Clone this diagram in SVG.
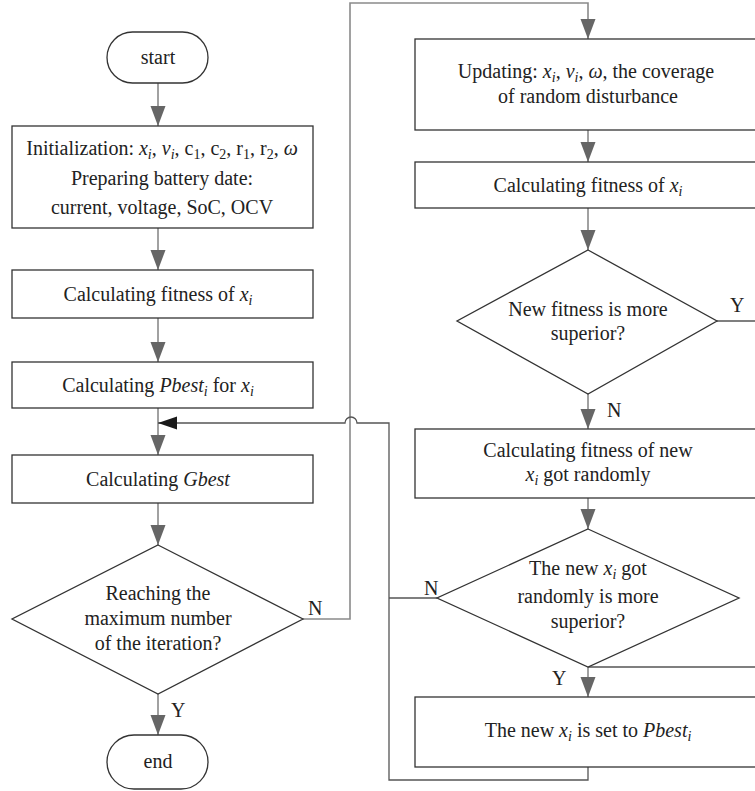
<svg xmlns="http://www.w3.org/2000/svg" width="755" height="791" viewBox="0 0 755 791">
<style>
  .box { fill: #ffffff; stroke: #333333; stroke-width: 1.3; }
  .t { font-family: "Liberation Serif", "Times New Roman", serif; font-size: 20px; fill: #222222; text-anchor: middle; }
  .lbl { font-family: "Liberation Serif", "Times New Roman", serif; font-size: 20px; fill: #222222; }
  .it { font-style: italic; }
  .conn { fill: none; stroke: #8a8a8a; stroke-width: 1.6; }
  .loop { fill: none; stroke: #555555; stroke-width: 1.3; }
</style>
<defs>
  <marker id="arr" markerUnits="userSpaceOnUse" markerWidth="21" markerHeight="16" refX="20" refY="7.5" orient="auto">
    <path d="M0,0 L20,7.5 L0,15 z" fill="#666666"/>
  </marker>
  <marker id="arrb" markerUnits="userSpaceOnUse" markerWidth="20" markerHeight="14" refX="19" refY="6.5" orient="auto">
    <path d="M0,0 L19,6.5 L0,13 z" fill="#1a1a1a"/>
  </marker>
</defs>
<rect width="755" height="791" fill="#ffffff"/>

<g id="connectors">
  <path class="conn" d="M158,83 L158,126" marker-end="url(#arr)"/>
  <path class="conn" d="M158,228 L158,270" marker-end="url(#arr)"/>
  <path class="conn" d="M158,318 L158,362" marker-end="url(#arr)"/>
  <path class="conn" d="M158,408 L158,455" marker-end="url(#arr)"/>
  <path class="conn" d="M158,503 L158,545" marker-end="url(#arr)"/>
  <path class="conn" d="M158,694 L158,735" marker-end="url(#arr)"/>
  <path class="conn" d="M303,619 L350,619 L350,3 L588,3 L588,39" marker-end="url(#arr)"/>
  <path class="conn" d="M588,130 L588,162" marker-end="url(#arr)"/>
  <path class="conn" d="M588,208 L588,250" marker-end="url(#arr)"/>
  <path class="conn" d="M588,394 L588,429" marker-end="url(#arr)"/>
  <path class="conn" d="M588,498 L588,529" marker-end="url(#arr)"/>
  <path class="conn" d="M588,667 L588,697" marker-end="url(#arr)"/>
  <path class="loop" d="M588,767 L588,780 L389,780 L389,423 L357,423 A6,6 0 0 0 345,423 L158,423" marker-end="url(#arrb)"/>
  <path class="loop" d="M437,598 L389,598"/>
  <path class="loop" d="M717,321 L760,321"/>
  <path class="loop" d="M588,667 L760,667"/>
  <text class="lbl" x="308" y="615">N</text>
  <text class="lbl" x="171" y="717">Y</text>
  <text class="lbl" x="730" y="312">Y</text>
  <text class="lbl" x="607" y="417">N</text>
  <text class="lbl" x="424" y="595">N</text>
  <text class="lbl" x="552" y="685">Y</text>
</g>

<g id="start">
  <rect class="box" x="107" y="32" width="101" height="51" rx="25.5"/>
  <text class="t" x="158" y="64">start</text>
</g>

<g id="init">
  <rect class="box" x="12" y="126" width="301" height="102"/>
  <text class="t" x="162" y="155">Initialization: <tspan class="it">x</tspan><tspan class="it" font-size="14" dy="4">i</tspan><tspan dy="-4">, </tspan><tspan class="it">v</tspan><tspan class="it" font-size="14" dy="4">i</tspan><tspan dy="-4">, c</tspan><tspan font-size="14" dy="4">1</tspan><tspan dy="-4">, c</tspan><tspan font-size="14" dy="4">2</tspan><tspan dy="-4">, r</tspan><tspan font-size="14" dy="4">1</tspan><tspan dy="-4">, r</tspan><tspan font-size="14" dy="4">2</tspan><tspan dy="-4">, </tspan><tspan class="it">ω</tspan></text>
  <text class="t" x="162" y="185">Preparing battery date:</text>
  <text class="t" x="162" y="214">current, voltage, SoC, OCV</text>
</g>

<g id="fitness-left">
  <rect class="box" x="12" y="270" width="301" height="48"/>
  <text class="t" x="158" y="301">Calculating fitness of <tspan class="it">x</tspan><tspan class="it" font-size="14" dy="4">i</tspan></text>
</g>

<g id="pbest-left">
  <rect class="box" x="12" y="362" width="301" height="46"/>
  <text class="t" x="158" y="392">Calculating <tspan class="it">Pbest</tspan><tspan class="it" font-size="14" dy="4">i</tspan><tspan dy="-4"> for </tspan><tspan class="it">x</tspan><tspan class="it" font-size="14" dy="4">i</tspan></text>
</g>

<g id="gbest">
  <rect class="box" x="12" y="455" width="301" height="48"/>
  <text class="t" x="158" y="486">Calculating <tspan class="it">Gbest</tspan></text>
</g>

<g id="max-iter">
  <polygon class="box" points="158,545 303,619 158,694 12,619"/>
  <text class="t" x="158" y="600">Reaching the</text>
  <text class="t" x="158" y="625">maximum number</text>
  <text class="t" x="158" y="650">of the iteration?</text>
</g>

<g id="end">
  <rect class="box" x="107" y="735" width="101" height="54" rx="27"/>
  <text class="t" x="158" y="768">end</text>
</g>

<g id="updating">
  <rect class="box" x="415" y="39" width="346" height="91"/>
  <text class="t" x="586" y="78">Updating: <tspan class="it">x</tspan><tspan class="it" font-size="14" dy="4">i</tspan><tspan dy="-4">, </tspan><tspan class="it">v</tspan><tspan class="it" font-size="14" dy="4">i</tspan><tspan dy="-4">, </tspan><tspan class="it">ω</tspan>, the coverage</text>
  <text class="t" x="588" y="103">of random disturbance</text>
</g>

<g id="fitness-right">
  <rect class="box" x="415" y="162" width="346" height="46"/>
  <text class="t" x="588" y="192">Calculating fitness of <tspan class="it">x</tspan><tspan class="it" font-size="14" dy="4">i</tspan></text>
</g>

<g id="new-fitness">
  <polygon class="box" points="588,250 717,321 588,394 457,321"/>
  <text class="t" x="588" y="316">New fitness is more</text>
  <text class="t" x="588" y="340">superior?</text>
</g>

<g id="random-fitness">
  <rect class="box" x="415" y="429" width="346" height="69"/>
  <text class="t" x="588" y="457">Calculating fitness of new</text>
  <text class="t" x="588" y="481"><tspan class="it">x</tspan><tspan class="it" font-size="14" dy="4">i</tspan><tspan dy="-4"> got randomly</tspan></text>
</g>

<g id="random-superior">
  <polygon class="box" points="588,529 739,598 588,667 437,598"/>
  <text class="t" x="588" y="575">The new <tspan class="it">x</tspan><tspan class="it" font-size="14" dy="4">i</tspan><tspan dy="-4"> got</tspan></text>
  <text class="t" x="588" y="603">randomly is more</text>
  <text class="t" x="588" y="628">superior?</text>
</g>

<g id="set-pbest">
  <rect class="box" x="415" y="697" width="346" height="70"/>
  <text class="t" x="588" y="737">The new <tspan class="it">x</tspan><tspan class="it" font-size="14" dy="4">i</tspan><tspan dy="-4"> is set to </tspan><tspan class="it">Pbest</tspan><tspan class="it" font-size="14" dy="4">i</tspan></text>
</g>
</svg>
